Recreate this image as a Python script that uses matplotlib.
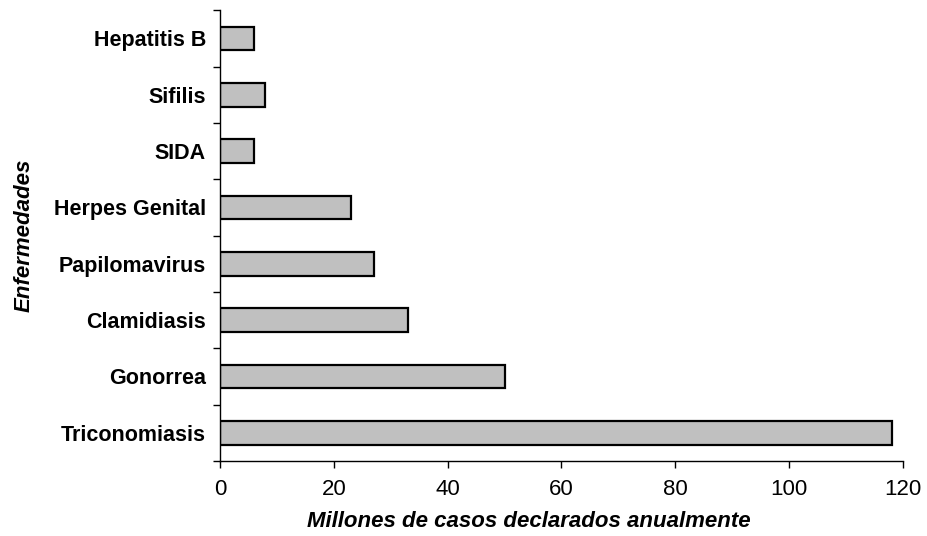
import numpy as np
import matplotlib.pyplot as plt

# Datos
enfermedades = ["Triconomiasis", "Gonorrea", "Clamidiasis", "Papilomavirus",
                "Herpes Genital", "SIDA", "Sifilis", "Hepatitis B"]
casos = [118, 50, 33, 27, 23, 6, 8, 6]

plt.rcParams['font.family'] = ['Liberation Sans', 'DejaVu Sans']

fig = plt.figure(figsize=(9.28, 5.36), dpi=100)
ax = fig.add_axes([0.237, 0.140, 0.736, 0.841])

y = np.arange(len(enfermedades))
ax.barh(y, casos, height=0.42, color='#c0c0c0', edgecolor='black', linewidth=1.6)

ax.set_xlim(0, 120)
ax.set_ylim(-0.5, len(enfermedades) - 0.5)
ax.set_xticks(np.arange(0, 121, 20))
ax.tick_params(axis='x', labelsize=16, length=5, width=1, direction='out', pad=8)

# etiquetas en el centro, marcas entre categorias
ax.set_yticks(y)
ax.set_yticklabels(enfermedades, fontsize=15.5, fontweight='bold')
ax.set_yticks(np.arange(-0.5, len(enfermedades)), minor=True)
ax.tick_params(axis='y', which='major', length=0, pad=10)
ax.tick_params(axis='y', which='minor', length=5, width=1, direction='out')

for s in ['top', 'right']:
    ax.spines[s].set_visible(False)
for s in ['left', 'bottom']:
    ax.spines[s].set_linewidth(1)

ax.set_xlabel("Millones de casos declarados anualmente", fontsize=16,
              fontweight='bold', fontstyle='italic')
ax.xaxis.set_label_coords(0.452, -0.112)
ax.set_ylabel("Enfermedades", fontsize=16, fontweight='bold', fontstyle='italic')
ax.yaxis.set_label_coords(-0.271, 0.5)

fig.savefig("out.png", dpi=100)
